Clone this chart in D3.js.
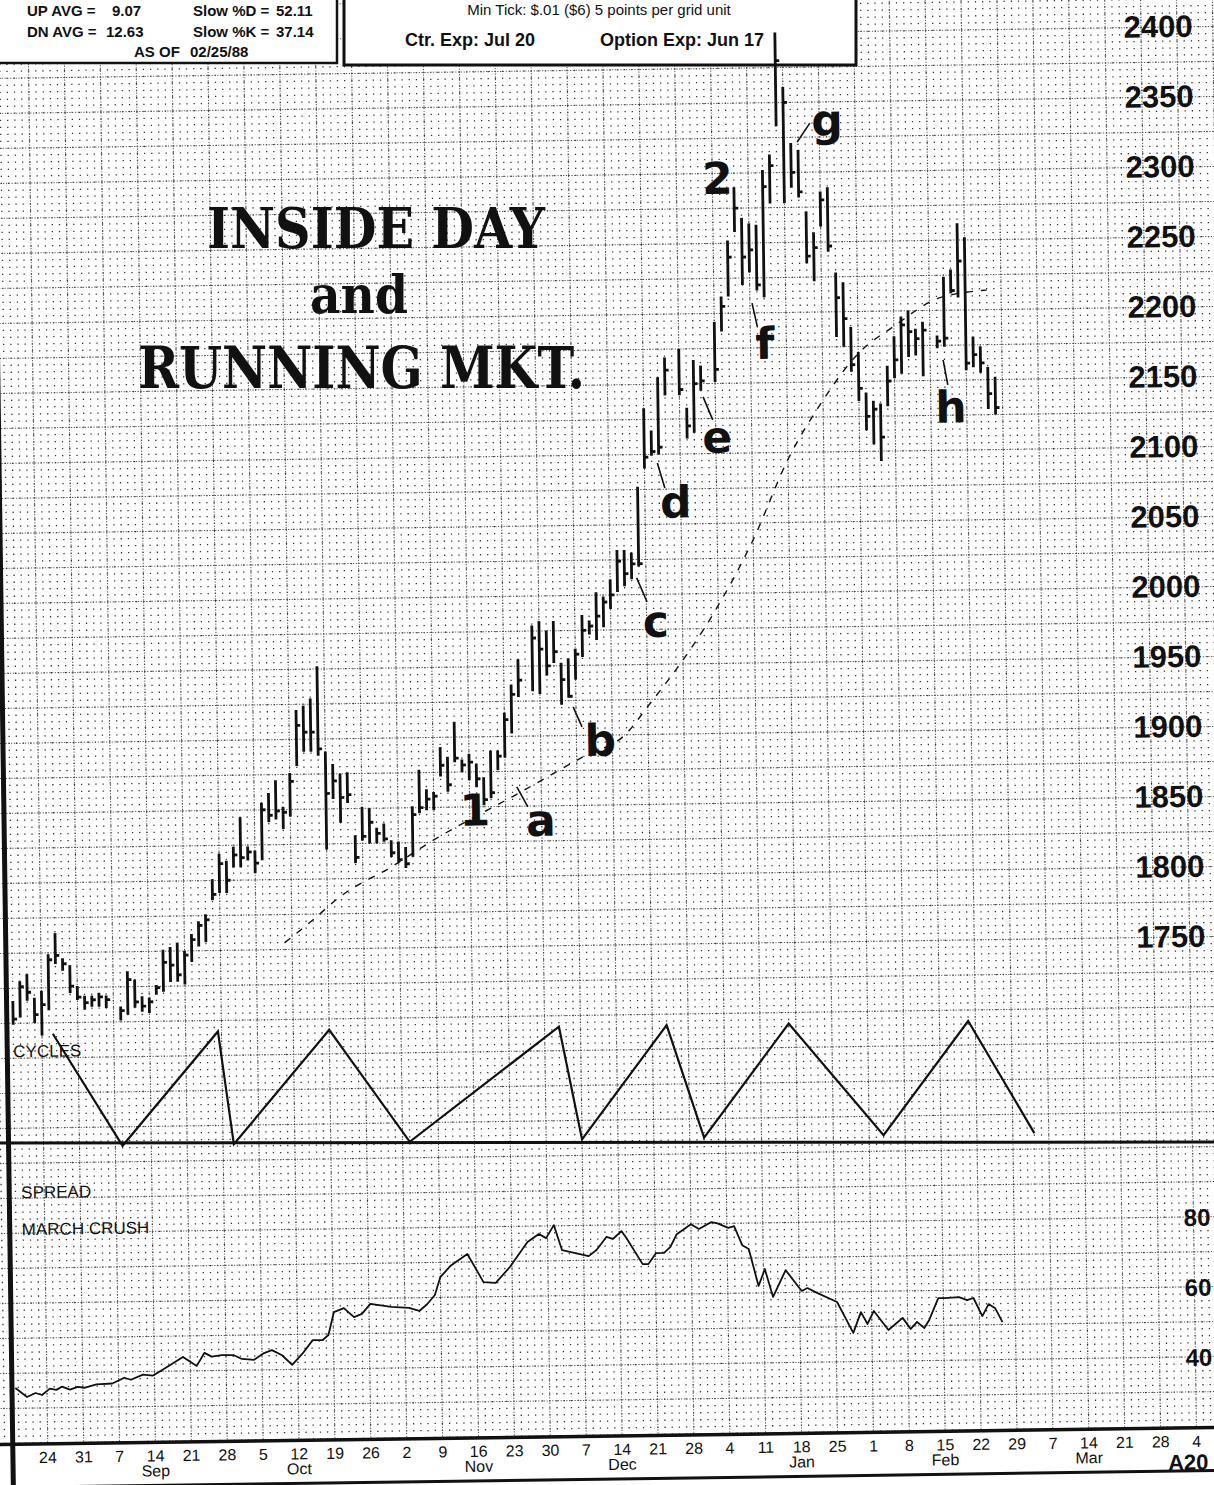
<!DOCTYPE html>
<html>
<head>
<meta charset="utf-8">
<script src="https://cdn.jsdelivr.net/npm/d3@7"></script>
<style>
  body { margin: 0; background: #fff; }
  svg { display: block; }
</style>
</head>
<body>
<svg id="chart"></svg>
<script>
// ---- data (trading-day index, 0 = Mon Aug 24 1987) ----
const holidays = [10, 68, 89, 94, 125];
const barDay = d3.range(-4, 135).filter((d) => !holidays.includes(d));

const barHigh = [
  1716, 1730, 1735, 1718, 1723, 1749, 1764, 1746, 1741, 1726, 1719, 1719, 1721, 1719,
  1711, 1736, 1730, 1718, 1717, 1726, 1751, 1753, 1756, 1750, 1762, 1771, 1776,
  1801, 1819, 1814, 1824, 1845, 1824, 1821, 1855, 1862, 1871, 1852, 1876, 1921, 1924, 1929, 1952, 1891, 1882,
  1875, 1876, 1831, 1851, 1850, 1836, 1839, 1827, 1826, 1822, 1851, 1877, 1863, 1861, 1893, 1886, 1911, 1884,
  1888, 1881, 1871, 1890, 1890, 1917, 1937, 1955,
  1979, 1982, 1975, 1982, 1952, 1955, 1962, 1986, 1982, 2002, 1999, 2011, 2032, 2032, 2030, 2077, 2133, 2117, 2155, 2169,
  2175, 2133, 2167, 2163,
  2194, 2212, 2252, 2290, 2268, 2264, 2263, 2302, 2313, 2400, 2361, 2321, 2316, 2272, 2257, 2286, 2289, 2228,
  2221, 2189, 2171, 2142, 2136, 2134, 2161, 2182, 2196, 2200, 2187, 2192,
  2182, 2224, 2229, 2262, 2252, 2181, 2174, 2159, 2152
];
const barLow = [
  1699, 1704, 1716, 1700, 1691, 1709, 1742, 1737, 1721, 1716, 1709, 1711, 1711, 1710,
  1701, 1705, 1710, 1707, 1706, 1719, 1721, 1728, 1728, 1726, 1742, 1753, 1756,
  1786, 1791, 1791, 1809, 1809, 1814, 1805, 1814, 1841, 1843, 1836, 1845, 1881, 1891, 1891, 1888, 1821, 1857,
  1840, 1854, 1811, 1827, 1825, 1825, 1826, 1815, 1811, 1807, 1815, 1846, 1848, 1848, 1872, 1861, 1882, 1875,
  1869, 1864, 1851, 1856, 1876, 1885, 1902, 1928,
  1932, 1930, 1943, 1952, 1922, 1927, 1940, 1956, 1972, 1968, 1977, 1990, 2002, 2006, 2011, 2020, 2090, 2099, 2100, 2142,
  2142, 2111, 2115, 2145,
  2151, 2187, 2212, 2258, 2220, 2229, 2216, 2211, 2278, 2333, 2278, 2289, 2282, 2235, 2222, 2261, 2243, 2182,
  2175, 2157, 2136, 2115, 2105, 2093, 2132, 2152, 2155, 2167, 2168, 2153,
  2173, 2174, 2212, 2209, 2157, 2159, 2155, 2129, 2125
];
const barClose = [
  1703, 1726, 1722, 1706, 1713, 1745, 1748, 1742, 1726, 1718, 1714, 1716, 1718, 1716,
  1708, 1730, 1714, 1711, 1714, 1724, 1742, 1740, 1733, 1747, 1758, 1768, 1772,
  1790, 1812, 1800, 1818, 1816, 1820, 1812, 1850, 1846, 1849, 1848, 1870, 1910, 1905, 1905, 1893, 1861, 1870,
  1858, 1860, 1815, 1830, 1840, 1832, 1828, 1818, 1813, 1810, 1845, 1850, 1856, 1858, 1880, 1866, 1885, 1880,
  1882, 1870, 1855, 1860, 1886, 1912, 1930, 1940,
  1970, 1962, 1950, 1960, 1940, 1928, 1958, 1975, 1978, 1985, 1995, 2000, 2024, 2015, 2022, 2022, 2098, 2102, 2105, 2160,
  2146, 2120, 2150, 2152,
  2160, 2205, 2240, 2275, 2240, 2245, 2220, 2290, 2305, 2380, 2350, 2300, 2286, 2240, 2246, 2280, 2247, 2210,
  2195, 2162, 2145, 2125, 2130, 2110, 2150, 2165, 2190, 2185, 2180, 2186,
  2178, 2180, 2214, 2235, 2162, 2168, 2162, 2140, 2130
];

// dashed moving average
const maDay = [34, 37.5, 42, 49, 55, 60, 66, 76, 82, 85, 89, 94, 100, 105, 110, 115, 120, 126.5, 133];
const maValue = [1755, 1769, 1788, 1808, 1827, 1841, 1857, 1885, 1901, 1920, 1946, 1983, 2038, 2095, 2137, 2170, 2189, 2209, 2214];

// cycles zigzag (1 = top, 0 = bottom)
const cycleDay = [1.5, 11, 24.5, 26.5, 40, 51, 72, 75, 87, 92, 104, 117, 129, 138];
const cycleLevel = [1, 0, 1, 0, 1, 0, 1, 0, 1, 0, 1, 0, 1, 0];

// March crush spread
const spreadDay = [-4.4, -2.8, -1.6, -0.7, 0.4, 1.3, 2.1, 3.2, 4.3, 5.2, 6.9, 9.1, 10.8, 11.7, 13.4, 14.8, 16.2, 19, 20.9, 22,
  23, 24.4, 26.1, 27.2, 28.9, 30.3, 31.4, 32.8, 34.2, 35.7, 37.1, 38.5, 39.3, 40.1, 41.5, 42.9, 44, 45.2, 48.1, 50.6,
  52, 53.1, 54.2, 55, 56.4, 57.4, 58.8, 61, 62.7, 64.7, 67.2, 68.8, 69.8, 70.9, 72, 75.7, 76.8, 78.2, 79.1, 80.3,
  80.9, 83.2, 84, 85.1, 86.2, 87.1, 88, 90, 91.1, 92.8, 93.6, 95.2, 96, 97.1, 98, 99.3, 100.2, 101.3, 103.1, 105.3,
  106.1, 107.5, 110.2, 112.4, 113.5, 114.4, 115.3, 117.3, 119.3, 120.4, 121.3, 122.3, 123, 124.3, 125.2, 127.2, 128.3, 129.2, 130.4, 131.3,
  132.2, 133.2];
const spreadValue = [35.8, 33.2, 34.3, 33.7, 35.5, 35.1, 36, 35.1, 35.9, 35.6, 36.5, 36.7, 38.3, 37.7, 39.1, 38.8, 40.5, 44, 41.4, 45.1,
  44, 44.4, 44.3, 43.2, 42.9, 44.8, 45.6, 44.1, 41.3, 44.6, 48.3, 48.3, 49.7, 56.2, 57.3, 54.7, 55.6, 58.4, 57.5, 57.1,
  56.2, 58.1, 60.7, 65.8, 68.9, 70.3, 72.3, 64.2, 63.9, 68.4, 75.5, 77.7, 76.5, 80.2, 73, 71.2, 72.9, 76.6, 76, 78.2,
  76.5, 68.7, 68.7, 71.8, 71.8, 73.5, 77.1, 79.9, 78.5, 80.4, 80.1, 78.7, 79.2, 73.7, 72.6, 62, 66.8, 58.8, 66.4, 60.4,
  61.2, 59.7, 57.1, 48.2, 54.1, 50.7, 54.4, 48.9, 52.3, 49.1, 51.1, 49.3, 51.6, 57.8, 57.8, 58, 57.1, 57.7, 52.5, 55.9,
  54.7, 50.7];

// axis labels
const priceTicks = d3.range(1750, 2401, 50);
const spreadTicks = [40, 60, 80];
const weekLabels = ["24", "31", "7", "14", "21", "28", "5", "12", "19", "26", "2", "9", "16", "23", "30",
  "7", "14", "21", "28", "4", "11", "18", "25", "1", "8", "15", "22", "29", "7", "14", "21", "28", "4"];
const monthNames = ["Sep", "Oct", "Nov", "Dec", "Jan", "Feb", "Mar"];
const monthDay = [15, 35, 60, 80, 105, 125, 145];

// annotations
const noteText = ["1", "a", "b", "c", "d", "e", "f", "g", "2", "h"];
const noteDay = [60.7, 69.9, 78.3, 86.3, 89.3, 95.2, 102, 111.1, 95.7, 127.8];
const notePrice = [1848, 1840, 1896.5, 1981, 2066, 2112, 2178.4, 2337, 2296.8, 2131];
const leaderDay = [[66.6, 68.1], [74.6, 75.8], [83.7, 85.1], [86.8, 87.8], [93.3, 94.6], [100.3, 101], [106.9, 108.7], [126.8, 127.4]];
const leaderPrice = [[1863.8, 1849.4], [1920.4, 1906], [2011.9, 1994.6], [2093.8, 2075.9], [2140.5, 2124], [2207, 2190], [2321.6, 2335], [2164.5, 2146.6]];

const width = 1214;
const height = 1485;
const ink = "#111";
const sans = "'Liberation Sans', Arial, Helvetica, sans-serif";

const svg = d3.select("#chart").attr("width", width).attr("height", height);
svg.append("rect").attr("width", width).attr("height", height).attr("fill", "#fff");

// the page was scanned slightly askew
const tilt = "rotate(-0.8,607,742)";

const x = d3.scaleLinear().domain([0, 160]).range([38, 38 + 7.18 * 160]);
const y = d3.scaleLinear().domain([1750, 2400]).range([945, 35]);
const ySpread = d3.scaleLinear().domain([40, 80]).range([1365, 1225]);
const yCycle = d3.scaleLinear().domain([0, 1]).range([1139, 1026]);

const panelBottom = 1436;

// ---- grid ----
const grid = svg.append("g").attr("transform", tilt);
const rowPrices = d3.range(700, 2460, 5).filter((p) => y(p) > -40 && y(p) < panelBottom);

grid.selectAll("line.minor")
  .data(rowPrices)
  .enter()
  .append("line")
  .attr("x1", x(-10))
  .attr("x2", x(175))
  .attr("y1", (p) => y(p))
  .attr("y2", (p) => y(p))
  .attr("stroke", "#333")
  .attr("stroke-width", 1.3)
  .attr("stroke-dasharray", "1.3,5.88")
  .attr("stroke-dashoffset", 0.65);

grid.selectAll("line.majorH")
  .data(rowPrices.filter((p) => p % 25 === 0))
  .enter()
  .append("line")
  .attr("x1", x(-10))
  .attr("x2", x(175))
  .attr("y1", (p) => y(p))
  .attr("y2", (p) => y(p))
  .attr("stroke", "#555")
  .attr("stroke-width", 1)
  .attr("stroke-dasharray", "1.2,1.6");

grid.selectAll("line.majorV")
  .data(d3.range(-5, 171, 5))
  .enter()
  .append("line")
  .attr("x1", (d) => x(d))
  .attr("x2", (d) => x(d))
  .attr("y1", -40)
  .attr("y2", panelBottom)
  .attr("stroke", "#555")
  .attr("stroke-width", 1)
  .attr("stroke-dasharray", "1.2,1.6");

// frame lines
grid.append("rect")
  .attr("x", -40).attr("y", panelBottom)
  .attr("width", 1300).attr("height", 100)
  .attr("fill", "#fff");
grid.append("line")
  .attr("x1", -40).attr("x2", 1260).attr("y1", panelBottom).attr("y2", panelBottom)
  .attr("stroke", ink).attr("stroke-width", 3.5);
grid.append("line")
  .attr("x1", -40).attr("x2", 1260).attr("y1", 1479).attr("y2", 1479)
  .attr("stroke", ink).attr("stroke-width", 3);
grid.append("line")
  .attr("x1", 3).attr("x2", 3).attr("y1", -60).attr("y2", 1500)
  .attr("stroke", ink).attr("stroke-width", 5);

// the cycles / spread divider sits level on the page
svg.append("line")
  .attr("x1", 0).attr("x2", width).attr("y1", 1143).attr("y2", 1142)
  .attr("stroke", ink).attr("stroke-width", 3);

// ---- header boxes ----
const header = svg.append("g");
header.append("rect")
  .attr("x", -10).attr("y", -10).attr("width", 347).attr("height", 73)
  .attr("fill", "#fff").attr("stroke", ink).attr("stroke-width", 2.5);
header.append("rect")
  .attr("x", 344).attr("y", -10).attr("width", 512).attr("height", 75)
  .attr("fill", "#fff").attr("stroke", ink).attr("stroke-width", 3);

const headText = [
  ["UP AVG =", 27, 16], ["9.07", 112, 16], ["Slow %D =", 193, 16], ["52.11", 276, 16],
  ["DN AVG =", 27, 37], ["12.63", 106, 37], ["Slow %K =", 193, 37], ["37.14", 276, 37],
  ["AS OF", 134, 57], ["02/25/88", 190, 57]
];
header.selectAll("text.h")
  .data(headText)
  .enter()
  .append("text")
  .attr("x", (d) => d[1])
  .attr("y", (d) => d[2])
  .attr("font-family", sans)
  .attr("font-size", 15)
  .attr("font-weight", "bold")
  .attr("fill", ink)
  .text((d) => d[0]);

header.append("text")
  .attr("x", 599).attr("y", 15)
  .attr("text-anchor", "middle")
  .attr("font-family", sans).attr("font-size", 15).attr("fill", ink)
  .text("Min Tick: $.01 ($6) 5 points per grid unit");
header.append("text")
  .attr("x", 405).attr("y", 46)
  .attr("font-family", sans).attr("font-size", 18).attr("font-weight", "bold").attr("fill", ink)
  .text("Ctr. Exp: Jul 20");
header.append("text")
  .attr("x", 600).attr("y", 46)
  .attr("font-family", sans).attr("font-size", 18).attr("font-weight", "bold").attr("fill", ink)
  .text("Option Exp: Jun 17");

// ---- marks ----
const plot = svg.append("g").attr("transform", tilt);
const bars = barDay.map((d, i) => ({ day: d, high: barHigh[i], low: barLow[i], close: barClose[i] }));

plot.selectAll("line.bar")
  .data(bars)
  .enter()
  .append("line")
  .attr("x1", (d) => x(d.day))
  .attr("x2", (d) => x(d.day))
  .attr("y1", (d) => y(d.high))
  .attr("y2", (d) => y(d.low))
  .attr("stroke", ink)
  .attr("stroke-width", 2.8);

plot.selectAll("line.close")
  .data(bars)
  .enter()
  .append("line")
  .attr("x1", (d) => x(d.day))
  .attr("x2", (d) => x(d.day) + 4)
  .attr("y1", (d) => y(d.close))
  .attr("y2", (d) => y(d.close))
  .attr("stroke", ink)
  .attr("stroke-width", 2.8);

const maLine = d3.line()
  .x((d, i) => x(maDay[i]))
  .y((d) => y(d))
  .curve(d3.curveMonotoneX);
plot.append("path")
  .attr("d", maLine(maValue))
  .attr("fill", "none")
  .attr("stroke", ink)
  .attr("stroke-width", 1.4)
  .attr("stroke-dasharray", "7,8");

const cycleLine = d3.line()
  .x((d, i) => x(cycleDay[i]))
  .y((d) => yCycle(d));
plot.append("path")
  .attr("d", cycleLine(cycleLevel))
  .attr("fill", "none")
  .attr("stroke", ink)
  .attr("stroke-width", 2.2);

const spreadLine = d3.line()
  .x((d, i) => x(spreadDay[i]))
  .y((d) => ySpread(d));
plot.append("path")
  .attr("d", spreadLine(spreadValue))
  .attr("fill", "none")
  .attr("stroke", ink)
  .attr("stroke-width", 1.8)
  .attr("stroke-linejoin", "round");

// panel titles
plot.append("text").attr("x", 9).attr("y", 1049)
  .attr("font-family", sans).attr("font-size", 17).attr("fill", ink).text("CYCLES");
plot.append("text").attr("x", 15).attr("y", 1190)
  .attr("font-family", sans).attr("font-size", 17).attr("fill", ink).text("SPREAD");
plot.append("text").attr("x", 15).attr("y", 1227)
  .attr("font-family", sans).attr("font-size", 17).attr("fill", ink).text("MARCH CRUSH");

// price axis labels
plot.selectAll("text.price")
  .data(priceTicks)
  .enter()
  .append("text")
  .attr("x", 1168)
  .attr("y", (d) => y(d) + 10)
  .attr("text-anchor", "middle")
  .attr("font-family", sans)
  .attr("font-size", 31)
  .attr("font-weight", "bold")
  .attr("fill", ink)
  .text((d) => d);

plot.selectAll("text.spread")
  .data(spreadTicks)
  .enter()
  .append("text")
  .attr("x", 1177)
  .attr("y", (d) => ySpread(d) + 9)
  .attr("font-family", sans)
  .attr("font-size", 24)
  .attr("font-weight", "bold")
  .attr("fill", ink)
  .text((d) => d);

// date axis
plot.selectAll("text.week")
  .data(weekLabels)
  .enter()
  .append("text")
  .attr("x", (d, i) => x(i * 5))
  .attr("y", 1455)
  .attr("text-anchor", "middle")
  .attr("font-family", sans)
  .attr("font-size", 16)
  .attr("fill", ink)
  .text((d) => d);

plot.selectAll("text.month")
  .data(monthNames)
  .enter()
  .append("text")
  .attr("x", (d, i) => x(monthDay[i]))
  .attr("y", 1470)
  .attr("text-anchor", "middle")
  .attr("font-family", sans)
  .attr("font-size", 16)
  .attr("fill", ink)
  .text((d) => d);

plot.append("text").attr("x", 1158).attr("y", 1478)
  .attr("font-family", sans).attr("font-size", 22).attr("font-weight", "bold").attr("fill", ink)
  .text("A20");

// annotations
plot.selectAll("line.leader")
  .data(leaderDay)
  .enter()
  .append("line")
  .attr("x1", (d) => x(d[0]))
  .attr("x2", (d) => x(d[1]))
  .attr("y1", (d, i) => y(leaderPrice[i][0]))
  .attr("y2", (d, i) => y(leaderPrice[i][1]))
  .attr("stroke", ink)
  .attr("stroke-width", 1.6);

plot.selectAll("text.note")
  .data(noteText)
  .enter()
  .append("text")
  .attr("x", (d, i) => x(noteDay[i]))
  .attr("y", (d, i) => y(notePrice[i]))
  .attr("dy", "0.36em")
  .attr("text-anchor", "middle")
  .attr("font-family", "'DejaVu Sans', sans-serif")
  .attr("font-size", 44)
  .attr("font-weight", "bold")
  .attr("fill", ink)
  .text((d) => d);

// ---- pasted-on title ----
const title = svg.append("g")
  .attr("font-family", "'DejaVu Serif', serif")
  .attr("font-weight", "bold")
  .attr("fill", ink);
title.append("text").attr("x", 207).attr("y", 248)
  .attr("font-size", 56).attr("textLength", 338).attr("lengthAdjust", "spacingAndGlyphs")
  .text("INSIDE DAY");
title.append("text").attr("x", 310).attr("y", 313)
  .attr("font-size", 52).attr("textLength", 98).attr("lengthAdjust", "spacingAndGlyphs")
  .text("and");
title.append("text").attr("x", 138).attr("y", 388)
  .attr("font-size", 58).attr("textLength", 447).attr("lengthAdjust", "spacingAndGlyphs")
  .text("RUNNING MKT.");
</script>
</body>
</html>
